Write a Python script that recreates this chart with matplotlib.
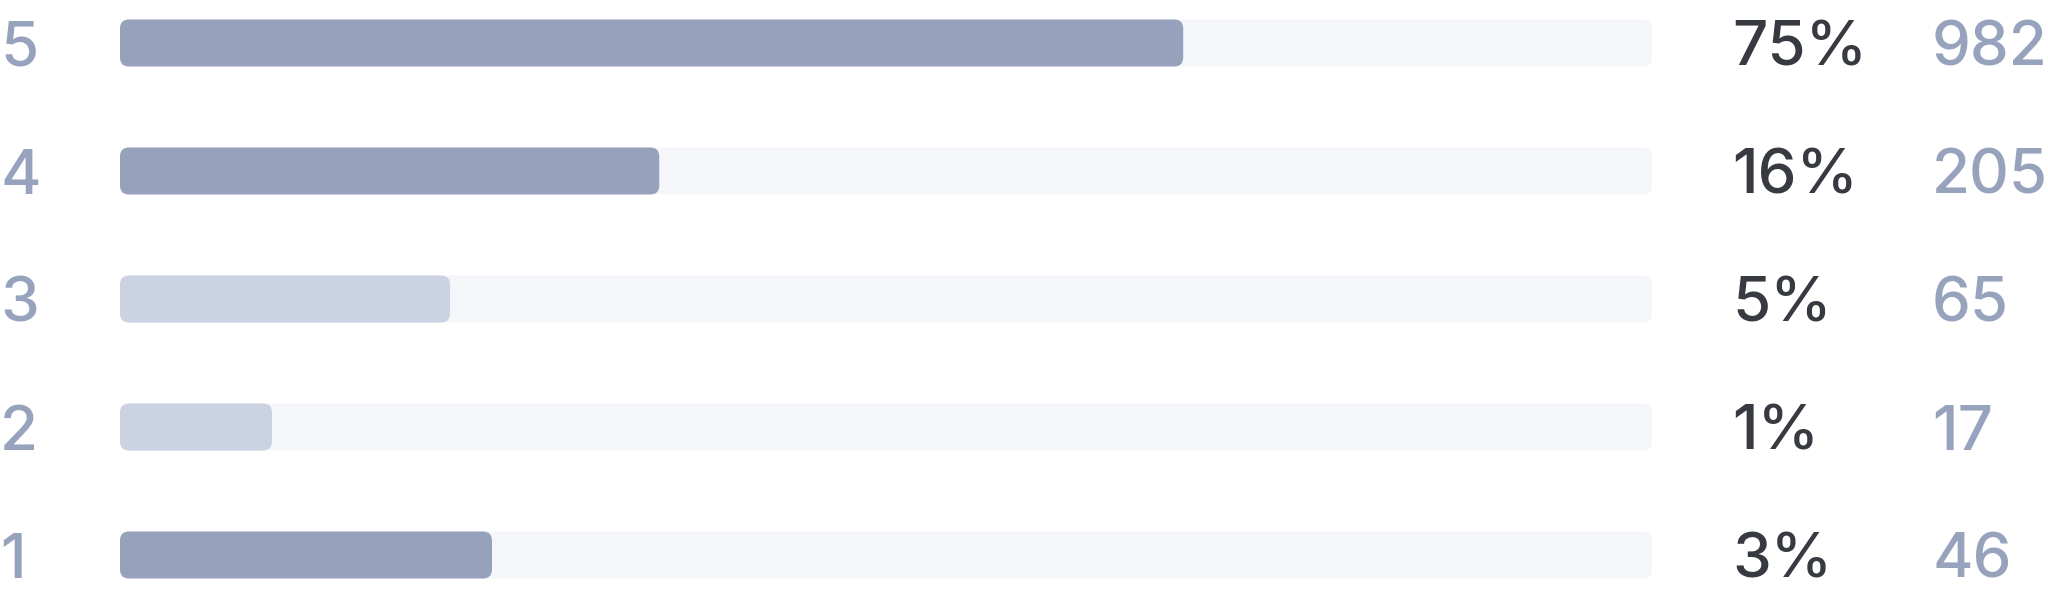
import matplotlib
matplotlib.use("Agg")
import matplotlib.pyplot as plt
from matplotlib.patches import FancyBboxPatch

# ---- data ----
ratings = ["5", "4", "3", "2", "1"]
percents = ["75%", "16%", "5%", "1%", "3%"]
counts = ["982", "205", "65", "17", "46"]
fill = [0.694, 0.352, 0.2154, 0.0992, 0.2428]
highlight = [True, True, False, False, True]

# ---- style ----
W, H, DPI = 2048, 600, 100
track_left, track_w = 120, 1532
row_px = 128
first_center = 43
bar_h_px = 47
radius_px = 9

c_dark = "#96a2bb"
c_light = "#cbd2e1"
c_track = "#f5f6fa"
c_pct = "#373a40"
c_cnt = "#97a3bd"

plt.rcParams["font.family"] = ["Inter", "DejaVu Sans"]

fig = plt.figure(figsize=(W / DPI, H / DPI), dpi=DPI)
ax = fig.add_axes([track_left / W, 0, track_w / W, 1])
ax.set_xlim(0, 1)
ybot = (H - first_center) / row_px
ytop = -first_center / row_px
ax.set_ylim(ybot, ytop)
ax.axis("off")

bar_h = bar_h_px / row_px
aspect = (1 / row_px) / (1 / track_w)
r = radius_px / track_w

def rbar(x0, w, yc, color):
    p = FancyBboxPatch((x0, yc - bar_h / 2), w, bar_h,
                       boxstyle=f"round,pad=0,rounding_size={r}",
                       mutation_aspect=aspect, linewidth=0,
                       facecolor=color, edgecolor="none")
    ax.add_patch(p)

fs = 44.5
cap_off = 23 / row_px
x_lab = (0 - track_left) / track_w
x_pct = (1732 - track_left) / track_w
x_cnt = (1932 - track_left) / track_w

for i, (lab, pct, cnt, f, hl) in enumerate(zip(ratings, percents, counts, fill, highlight)):
    rbar(0, 1, i, c_track)
    rbar(0, f, i, c_dark if hl else c_light)
    ax.text(x_lab, i + cap_off, lab, color=c_cnt, fontsize=fs, fontweight=500,
            ha="left", va="baseline", clip_on=False)
    ax.text(x_pct, i + cap_off, pct, color=c_pct, fontsize=fs, fontweight=500,
            ha="left", va="baseline", clip_on=False)
    ax.text(x_cnt, i + cap_off, cnt, color=c_cnt, fontsize=fs, fontweight=500,
            ha="left", va="baseline", clip_on=False)

fig.savefig("out.png", dpi=DPI, facecolor="white")
